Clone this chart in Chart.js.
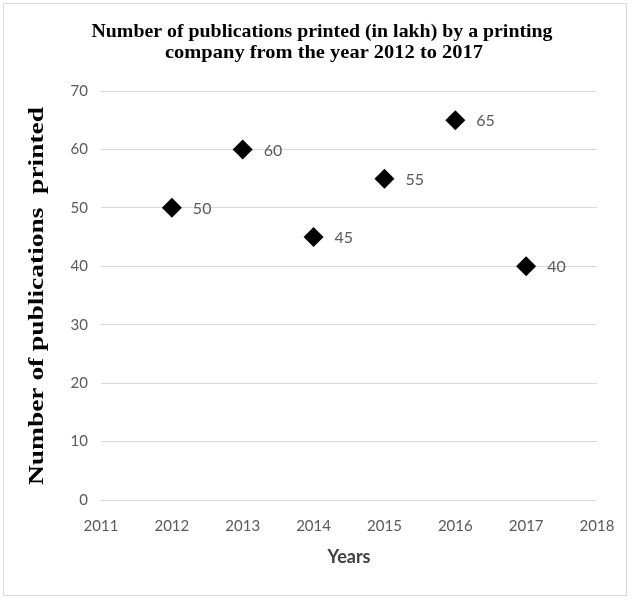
<!DOCTYPE html>
<html>
<head>
<meta charset="utf-8">
<script src="https://cdn.jsdelivr.net/npm/chart.js@4"></script>
<style>
  html, body { margin: 0; padding: 0; background: #fff; }
  #wrap { width: 636px; height: 600px; }
</style>
</head>
<body>
<div id="wrap"><canvas id="chart" width="636" height="600"></canvas></div>
<script>
const years = [2012, 2013, 2014, 2015, 2016, 2017];
const printed = [50, 60, 45, 55, 65, 40];
const titleLines = ["Number of publications printed (in lakh) by a printing", "company from the year 2012 to 2017"];
const yTitle = "Number of publications  printed";
const xTitle = "Years";

const tickColor = "#595959";

// draw centred text squeezed/stretched to a given width
function fitText(ctx, text, x, y, width) {
  const w = ctx.measureText(text).width;
  ctx.save();
  ctx.translate(x, y);
  ctx.scale(width / w, 1);
  ctx.fillText(text, 0, 0);
  ctx.restore();
}

// frame, titles and value labels drawn by hand
const decor = {
  id: "decor",
  beforeDraw(c) {
    const ctx = c.ctx;
    ctx.save();
    ctx.fillStyle = "#fff";
    ctx.fillRect(0, 0, c.width, c.height);
    ctx.strokeStyle = "#d9d9d9";
    ctx.lineWidth = 1;
    ctx.strokeRect(3.5, 3.5, 623, 592);
    ctx.restore();
  },
  afterDraw(c) {
    const ctx = c.ctx;
    ctx.save();
    ctx.fillStyle = "#000";
    ctx.textAlign = "center";
    ctx.textBaseline = "middle";
    ctx.font = "bold 19px 'Liberation Serif', serif";
    fitText(ctx, titleLines[0], 322, 32, 461);
    fitText(ctx, titleLines[1], 324, 53, 318);

    ctx.save();
    ctx.translate(38, 296);
    ctx.rotate(-Math.PI / 2);
    ctx.font = "bold 20px 'Liberation Serif', serif";
    fitText(ctx, yTitle, 0, 0, 378);
    ctx.restore();

    ctx.fillStyle = "#404040";
    ctx.font = "bold 18px Lato, sans-serif";
    ctx.fillText(xTitle, 349, 557);

    const meta = c.getDatasetMeta(0);
    ctx.fillStyle = tickColor;
    ctx.textAlign = "left";
    ctx.font = "16px Lato, sans-serif";
    meta.data.forEach((pt, i) => {
      ctx.fillText(String(printed[i]), pt.x + 21, pt.y + 1);
    });
    ctx.restore();
  },
};

new Chart(document.getElementById("chart"), {
  type: "scatter",
  data: {
    datasets: [{
      data: years.map((y, i) => ({ x: y, y: printed[i] })),
      pointStyle: "rectRot",
      pointRadius: 10,
      pointHoverRadius: 10,
      backgroundColor: "#000",
      borderColor: "#000",
      borderWidth: 0,
    }],
  },
  options: {
    responsive: false,
    animation: false,
    layout: { padding: { top: 91, right: 39, left: 0, bottom: 0 } },
    plugins: { legend: { display: false }, tooltip: { enabled: false }, title: { display: false } },
    scales: {
      x: {
        type: "linear",
        min: 2011,
        max: 2018,
        ticks: {
          stepSize: 1,
          color: tickColor,
          padding: 17,
          font: { family: "Lato", size: 15 },
          callback: (v) => String(v),
          maxRotation: 0,
        },
        grid: { display: false, drawTicks: false },
        border: { display: false },
        afterFit: (s) => { s.height = 100; },
      },
      y: {
        min: 0,
        max: 70,
        ticks: {
          stepSize: 10,
          color: tickColor,
          padding: 13,
          font: { family: "Lato", size: 15 },
        },
        grid: { color: "#d9d9d9", drawTicks: false, lineWidth: 1 },
        border: { display: false },
        afterFit: (s) => { s.width = 101; },
      },
    },
  },
  plugins: [decor],
});
</script>
</body>
</html>
